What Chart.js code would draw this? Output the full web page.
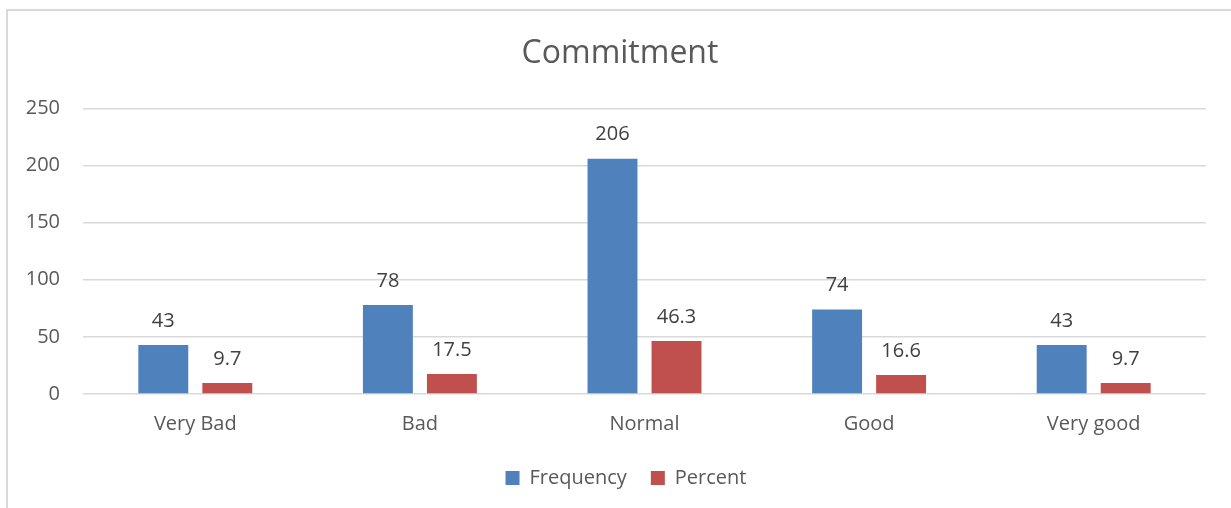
<!DOCTYPE html>
<html>
<head>
<meta charset="utf-8">
<script src="https://cdn.jsdelivr.net/npm/chart.js@4"></script>
<style>
  html, body { margin: 0; padding: 0; background: #fff; overflow: hidden; }
  #frame { position: absolute; left: 6px; top: 9px; width: 1300px; height: 600px; border: 2px solid #d9d9d9; box-sizing: border-box; }
  #wrap { position: absolute; left: 0; top: 0; width: 1231px; height: 508px; }
</style>
</head>
<body>
<div id="frame"></div>
<div id="wrap"><canvas id="myChart"></canvas></div>
<script>
// dữ liệu biểu đồ
var categories = ['Very Bad', 'Bad', 'Normal', 'Good', 'Very good'];
var frequency = [43, 78, 206, 74, 43];
var percent = [9.7, 17.5, 46.3, 16.6, 9.7];
var yTicks = [0, 50, 100, 150, 200, 250];

var FONT = '"Open Sans", "DejaVu Sans", sans-serif';

// vẽ nhãn số trên mỗi cột
var barLabels = {
    id: 'barLabels',
    afterLayout: function(chart) {
        // dịch tiêu đề và chú thích sang phải một chút cho giống ảnh gốc
        if (chart.titleBlock) chart.titleBlock.left += 14;
        if (chart.legend) chart.legend.left += 26;
    },
    afterDatasetsDraw: function(chart) {
        var ctx = chart.ctx;
        ctx.save();
        ctx.font = '20px ' + FONT;
        ctx.fillStyle = '#404040';
        ctx.textAlign = 'center';
        ctx.textBaseline = 'middle';
        chart.data.datasets.forEach(function(ds, i) {
            chart.getDatasetMeta(i).data.forEach(function(bar, j) {
                ctx.fillText(String(ds.data[j]), bar.x, bar.y - 24);
            });
        });
        ctx.restore();
    }
};

var ctx = document.getElementById('myChart').getContext('2d');
new Chart(ctx, {
    type: 'bar',
    data: {
        labels: categories,
        datasets: [{
            label: 'Frequency',
            data: frequency,
            backgroundColor: '#4F81BD'
        }, {
            label: 'Percent',
            data: percent,
            backgroundColor: '#C0504D'
        }]
    },
    options: {
        responsive: true,
        maintainAspectRatio: false,
        animation: false,
        categoryPercentage: 0.57,
        barPercentage: 0.78,
        layout: { padding: { left: 20, right: 25, top: 0, bottom: 10 } },
        plugins: {
            title: {
                display: true,
                text: 'Commitment',
                color: '#595959',
                font: { family: FONT, size: 32, weight: 'normal' },
                padding: { top: 35, bottom: 35 }
            },
            legend: {
                position: 'bottom',
                labels: {
                    color: '#595959',
                    font: { family: FONT, size: 20 },
                    boxWidth: 14,
                    boxHeight: 14,
                    padding: 24
                }
            },
            tooltip: { enabled: false }
        },
        scales: {
            x: {
                grid: { display: false },
                border: { display: false },
                ticks: { color: '#595959', font: { family: FONT, size: 20 }, padding: 10 },
                afterFit: function(scale) { scale.height = 50; }
            },
            y: {
                min: 0,
                max: 250,
                afterBuildTicks: function(scale) {
                    scale.ticks = yTicks.map(function(v) { return { value: v }; });
                },
                grid: { color: '#d9d9d9', lineWidth: 1.5, drawTicks: false },
                border: { display: false },
                ticks: { color: '#595959', font: { family: FONT, size: 20 }, padding: 23 },
                afterFit: function(scale) { scale.width = 63; }
            }
        }
    },
    plugins: [barLabels]
});
</script>
</body>
</html>
